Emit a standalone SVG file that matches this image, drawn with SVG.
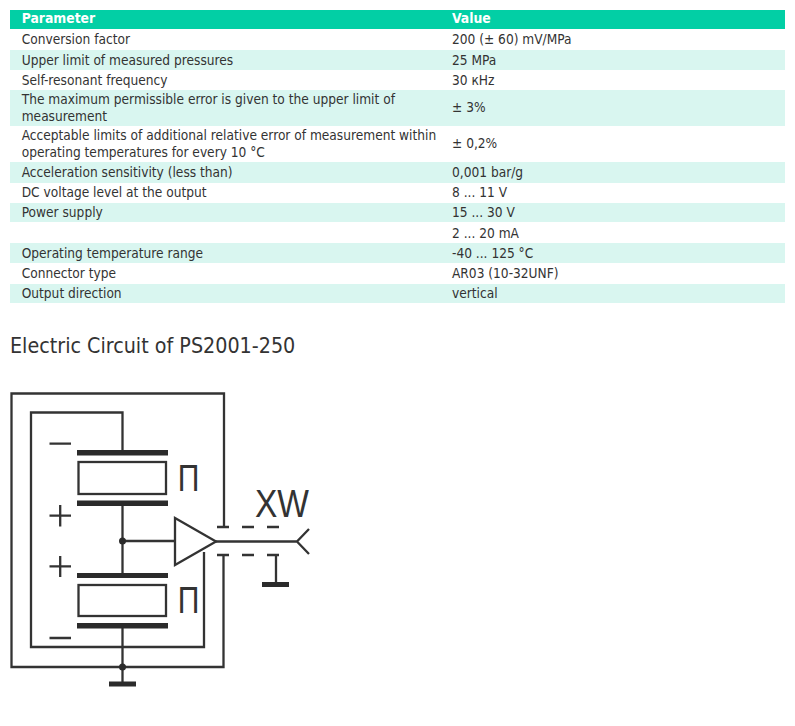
<svg xmlns="http://www.w3.org/2000/svg" width="795" height="726" viewBox="0 0 795 726">
<style>
text{font-family:"DejaVu Sans",Verdana,sans-serif;font-stretch:condensed;font-size:13.6px;fill:#333}
text.h{fill:#fff;font-weight:bold;font-size:13.8px}
.hd{fill:#02cfa5}
.t{fill:#d9f6f0}
text.title{font-size:21.3px;fill:#333}
.w{fill:none;stroke:#333;stroke-width:2.3}
.p{fill:#2b2b2b}
text.sym{font-family:"Liberation Sans",Arial,sans-serif;font-stretch:normal;font-size:36px;fill:#333}
text.xw{font-size:38px}
</style>
<rect width="795" height="726" fill="#fff"/>
<g id="table">
<rect class="hd" x="10" y="10" width="775" height="19"/>
<rect class="t" x="10" y="50" width="775" height="20"/>
<rect class="t" x="10" y="90" width="775" height="36"/>
<rect class="t" x="10" y="162" width="775" height="21"/>
<rect class="t" x="10" y="203" width="775" height="19"/>
<rect class="t" x="10" y="243" width="775" height="20"/>
<rect class="t" x="10" y="284" width="775" height="19"/>
<text class="h" x="21.700" y="23">Parameter</text><text class="h" x="452" y="23">Value</text>
<text x="21.700" y="44">Conversion factor</text><text x="452" y="44">200 (± 60) mV/MPa</text>
<text x="21.700" y="65">Upper limit of measured pressures</text><text x="452" y="65">25 MPa</text>
<text x="21.700" y="85">Self-resonant frequency</text><text x="452" y="85">30 кHz</text>
<text x="21.700" y="104">The maximum permissible error is given to the upper limit of</text>
<text x="21.700" y="121">measurement</text><text x="452" y="112">± 3%</text>
<text x="21.700" y="140">Acceptable limits of additional relative error of measurement within</text>
<text x="21.700" y="157">operating temperatures for every 10 °C</text><text x="452" y="148">± 0,2%</text>
<text x="21.700" y="177">Acceleration sensitivity (less than)</text><text x="452" y="177">0,001 bar/g</text>
<text x="21.700" y="197">DC voltage level at the output</text><text x="452" y="197">8 ... 11 V</text>
<text x="21.700" y="217">Power supply</text><text x="452" y="217">15 ... 30 V</text>
<text x="452" y="238">2 ... 20 mA</text>
<text x="21.700" y="258">Operating temperature range</text><text x="452" y="258">-40 ... 125 °C</text>
<text x="21.700" y="278">Connector type</text><text x="452" y="278">AR03 (10-32UNF)</text>
<text x="21.700" y="298">Output direction</text><text x="452" y="298">vertical</text>
</g>
<text class="title" x="10" y="353">Electric Circuit of PS2001-250</text>
<g id="connectors">
<path class="w" d="M224 527V393.500H11.500V667H223.500V555"/>
<path class="w" d="M122.500 452V412.500H31V647H204V552"/>
<path class="w" d="M122.500 503V575M122.500 625V684M122.500 541H175M216 541.500H297M309 529L297 541.500L309 554"/>
<path class="w" d="M217 527H229M242 527H254M267 527H279M217 555H229M242 555H254M267 555H279M276 555V584"/>
</g>
<g id="amplifier"><path class="w" d="M175 518L216 541.500L175 565Z"/></g>
<g id="sensor-top">
<rect class="p" x="77" y="450" width="91" height="5.500"/>
<rect class="w" x="78.500" y="462" width="87.500" height="32"/>
<rect class="p" x="77" y="500.500" width="91" height="5.500"/>
<text class="sym" x="177.700" y="491" textLength="21.600" lengthAdjust="spacingAndGlyphs">П</text>
</g>
<g id="sensor-bottom">
<rect class="p" x="77" y="573" width="91" height="5"/>
<rect class="w" x="78.500" y="585" width="87.500" height="31"/>
<rect class="p" x="77" y="623" width="91" height="5.500"/>
<text class="sym" x="177.700" y="613" textLength="21.600" lengthAdjust="spacingAndGlyphs">П</text>
</g>
<g id="polarity">
<path class="w" d="M49.500 443.700H71M49.500 515.700H71M60.200 505V526.500M49.500 566.300H71M60.200 556V577M49.500 638H71"/>
</g>
<g id="junctions">
<circle class="p" cx="122.500" cy="541" r="3.500"/>
<circle class="p" cx="122.500" cy="667" r="3.500"/>
</g>
<g id="grounds">
<rect class="p" x="262" y="582" width="27" height="5"/>
<rect class="p" x="109" y="681.500" width="27" height="5"/>
</g>
<text id="xw" class="sym xw" x="255" y="517" textLength="54" lengthAdjust="spacingAndGlyphs">XW</text>
</svg>
